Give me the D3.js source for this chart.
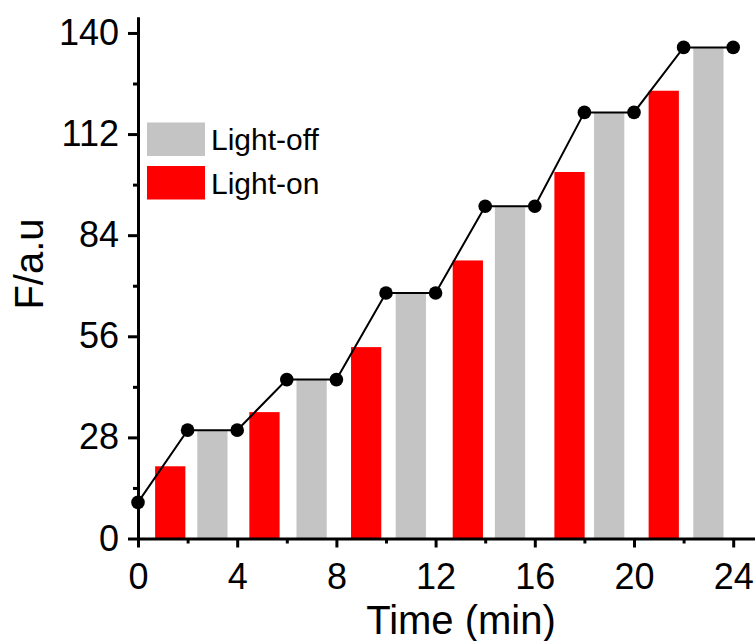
<!DOCTYPE html>
<html>
<head>
<meta charset="utf-8">
<script src="https://cdn.jsdelivr.net/npm/d3@7/dist/d3.min.js"></script>
<style>
  html, body { margin: 0; padding: 0; background: #fff; }
  svg { display: block; font-family: "Liberation Sans", Arial, sans-serif; }
</style>
</head>
<body>
<svg id="chart" width="755" height="641"></svg>
<script>
// Fluorescence readings (black dots + line) every 2 min
const times = [0, 2, 4, 6, 8, 10, 12, 14, 16, 18, 20, 22, 24];
const intensity = [10, 30, 30, 44, 44, 68, 68, 92, 92, 118, 118, 136, 136];

// Light-on bars (red)
const onTimes = [1.3, 5.1, 9.2, 13.3, 17.4, 21.2];
const onValues = [20, 35, 53, 77, 101.5, 124];

// Light-off bars (grey)
const offTimes = [3, 7, 11, 15, 19, 23];
const offValues = [30, 44, 68, 92, 118, 136];

// Axis ticks
const xTicks = [0, 4, 8, 12, 16, 20, 24];
const xMinorTicks = [2, 6, 10, 14, 18, 22];
const yTicks = [0, 28, 56, 84, 112, 140];
const yMinorTicks = [14, 42, 70, 98, 126];

const legendItems = ["Light-off", "Light-on"];
const colors = { off: "#c4c4c4", on: "#ff0000" };

const svg = d3.select("#chart");

const x0 = 138, y0 = 538.5;
const x = d3.scaleLinear().domain([0, 25]).range([x0, x0 + 25 * 24.8]);
const y = d3.scaleLinear().domain([0, 144.5]).range([y0, y0 - 144.5 * 3.611]);
const barW = 1.22;

// Bars
const bars = svg.append("g");
bars.selectAll("rect.on")
  .data(onTimes.map((t, i) => ({ t, v: onValues[i] })))
  .join("rect")
  .attr("class", "on")
  .attr("x", d => x(d.t - barW / 2))
  .attr("width", d => x(d.t + barW / 2) - x(d.t - barW / 2))
  .attr("y", d => y(d.v))
  .attr("height", d => y(0) - y(d.v))
  .attr("fill", colors.on);

bars.selectAll("rect.off")
  .data(offTimes.map((t, i) => ({ t, v: offValues[i] })))
  .join("rect")
  .attr("class", "off")
  .attr("x", d => x(d.t - barW / 2))
  .attr("width", d => x(d.t + barW / 2) - x(d.t - barW / 2))
  .attr("y", d => y(d.v))
  .attr("height", d => y(0) - y(d.v))
  .attr("fill", colors.off);

// Line + dots
const pts = times.map((t, i) => [t, intensity[i]]);
svg.append("path")
  .datum(pts)
  .attr("fill", "none")
  .attr("stroke", "#000")
  .attr("stroke-width", 2)
  .attr("d", d3.line().x(d => x(d[0])).y(d => y(d[1])));

svg.append("g").selectAll("circle")
  .data(pts)
  .join("circle")
  .attr("cx", d => x(d[0]))
  .attr("cy", d => y(d[1]))
  .attr("r", 6.8)
  .attr("fill", "#000");

// Axes
function styleAxis(g) {
  g.select(".domain").attr("stroke", "#000").attr("stroke-width", 3);
  g.selectAll(".tick line").attr("stroke", "#000").attr("stroke-width", 3);
  g.selectAll(".tick text").attr("fill", "#000").style("font-size", "36px")
    .style("font-family", "'Liberation Sans', Arial, sans-serif");
}

const xAxis = svg.append("g").attr("transform", `translate(0,${y0})`)
  .call(d3.axisBottom(x).tickValues(xTicks).tickSize(9).tickSizeOuter(0).tickPadding(16).tickFormat(d3.format("d")));
styleAxis(xAxis);
const xMinor = svg.append("g").attr("transform", `translate(0,${y0})`)
  .call(d3.axisBottom(x).tickValues(xMinorTicks).tickSize(5).tickSizeOuter(0).tickFormat(""));
styleAxis(xMinor);
xMinor.select(".domain").remove();

const yAxis = svg.append("g").attr("transform", `translate(${x0},0)`)
  .call(d3.axisLeft(y).tickValues(yTicks).tickSize(10).tickSizeOuter(0).tickPadding(9).tickFormat(d3.format("d")));
styleAxis(yAxis);
const yMinor = svg.append("g").attr("transform", `translate(${x0},0)`)
  .call(d3.axisLeft(y).tickValues(yMinorTicks).tickSize(5).tickSizeOuter(0).tickFormat(""));
styleAxis(yMinor);
yMinor.select(".domain").remove();

// Axis titles
svg.append("text")
  .attr("x", 461).attr("y", 634)
  .attr("text-anchor", "middle")
  .style("font-size", "40px")
  .text("Time (min)");

svg.append("text")
  .attr("transform", "translate(43,264) rotate(-90)")
  .attr("text-anchor", "middle")
  .style("font-size", "40px")
  .text("F/a.u");

// Legend
const legend = svg.append("g");
const legendColors = [colors.off, colors.on];
legendItems.forEach((name, i) => {
  const top = 122.5 + i * 43.5;
  legend.append("rect")
    .attr("x", 147).attr("y", top)
    .attr("width", 58).attr("height", 33.5)
    .attr("fill", legendColors[i]);
  legend.append("text")
    .attr("x", 211).attr("y", top + 27.5)
    .style("font-size", "30px")
    .text(name);
});
</script>
</body>
</html>
